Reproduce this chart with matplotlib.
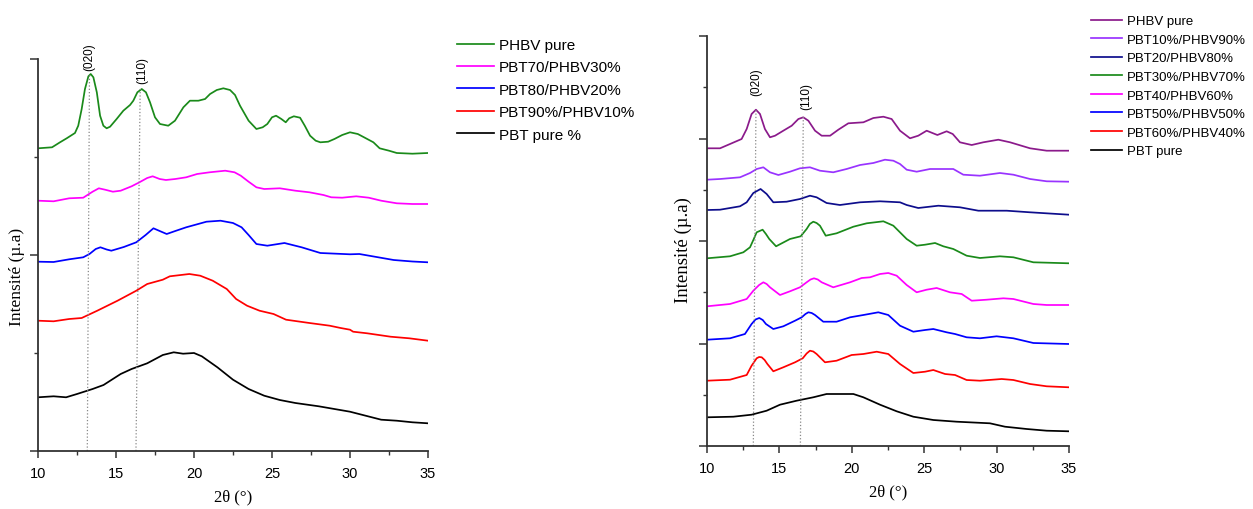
import numpy as np
import matplotlib
matplotlib.use("Agg")
import matplotlib.pyplot as plt
from matplotlib.ticker import MultipleLocator

# ---- left panel: PBT/PHBV blends, PBT rich (stacked intensities, a.u.)
L_phbv_x = [10.0, 10.9, 11.41, 11.84, 12.37, 12.58, 12.8, 13.01, 13.23, 13.38, 13.55, 13.77, 13.98, 14.19,
            14.4, 14.62, 15.04, 15.47, 15.9, 16.11, 16.37, 16.65, 16.92, 17.18, 17.5, 17.82, 18.35, 18.78,
            19.32, 19.74, 20.28, 20.71, 21.03, 21.46, 21.88, 22.31, 22.63, 22.95, 23.5, 24.0, 24.4, 24.7,
            25.0, 25.26, 25.6, 25.88, 26.1, 26.4, 26.8, 27.1, 27.44, 27.8, 28.1, 28.6, 29.0, 29.5, 30.0,
            30.5, 30.9, 31.5, 31.9, 32.5, 33.0, 34.0, 35.0]
L_phbv_y = [302.7, 303.7, 308.7, 312.7, 318.0, 325.3, 342.0, 362.0, 374.7, 377.0, 373.7, 358.7, 335.3, 325.3,
            322.7, 324.3, 332.0, 340.3, 346.0, 350.3, 358.7, 362.0, 358.7, 348.7, 333.7, 327.0, 325.3, 330.3,
            343.7, 350.3, 350.3, 352.0, 357.0, 361.0, 362.7, 361.0, 356.0, 345.3, 330.3, 322.0, 323.7, 327.0,
            333.7, 335.3, 332.0, 328.7, 332.7, 334.7, 333.3, 325.3, 315.3, 310.3, 308.7, 309.3, 312.0, 316.0,
            318.7, 317.0, 313.7, 308.7, 302.7, 300.3, 298.0, 297.3, 298.0]

L_pbt70_x = [10.0, 11.0, 12.0, 12.9, 13.5, 13.9, 14.3, 14.8, 15.3, 16.0, 16.5, 17.0, 17.35, 17.8, 18.2,
             18.8, 19.5, 20.2, 21.0, 22.0, 22.6, 23.0, 23.5, 24.0, 24.5, 25.5, 26.5, 27.4, 28.3, 28.8,
             29.5, 30.4, 31.2, 32.0, 33.0, 34.0, 35.0]
L_pbt70_y = [250.3, 249.7, 252.7, 253.3, 259.3, 262.7, 261.3, 259.3, 260.3, 264.7, 268.7, 273.0, 274.7, 272.0,
             271.0, 272.0, 273.7, 277.0, 278.7, 280.3, 278.7, 275.3, 269.3, 263.7, 262.0, 262.7, 260.3, 258.7,
             256.0, 253.7, 253.3, 254.7, 253.3, 250.3, 247.7, 247.0, 247.0]

L_pbt80_x = [10.0, 11.0, 12.0, 12.9, 13.3, 13.7, 14.0, 14.4, 14.7, 15.5, 16.3, 16.9, 17.4, 17.8, 18.25,
             18.8, 19.5, 20.8, 21.7, 22.5, 23.05, 23.5, 24.0, 24.7, 25.8, 26.9, 28.1, 30.0, 30.6, 31.7,
             32.8, 34.0, 35.0]
L_pbt80_y = [189.3, 189.0, 191.7, 193.7, 197.0, 202.0, 203.7, 201.5, 200.3, 204.0, 208.7, 216.0, 222.7, 220.0,
             217.0, 220.0, 223.7, 229.3, 230.3, 228.0, 223.7, 216.0, 207.0, 205.3, 208.0, 203.7, 198.0, 196.7,
             197.0, 194.0, 191.0, 189.5, 188.7]

L_pbt90_x = [10.0, 11.0, 12.0, 12.8, 13.8, 15.1, 16.3, 17.0, 18.0, 18.45, 19.7, 20.4, 21.2, 22.1, 22.7,
             23.4, 24.2, 25.1, 25.9, 27.4, 28.7, 29.4, 30.0, 30.2, 31.1, 32.6, 33.8, 35.0]
L_pbt90_y = [130.3, 129.7, 132.0, 133.0, 140.3, 150.3, 160.3, 167.0, 171.3, 174.7, 177.0, 175.3, 170.3, 162.0,
             152.0, 145.3, 140.3, 137.0, 131.3, 128.0, 125.3, 123.0, 121.3, 119.3, 117.7, 114.3, 112.7, 110.3]

L_pbt_x = [10.0, 11.0, 11.8, 12.5, 13.5, 14.2, 14.8, 15.3, 16.0, 17.0, 18.0, 18.7, 19.3, 20.0, 20.5,
           21.5, 22.5, 23.5, 24.5, 25.5, 26.5, 28.0, 29.0, 30.0, 31.0, 32.0, 33.0, 34.0, 35.0]
L_pbt_y = [53.7, 54.7, 53.7, 57.0, 62.0, 66.0, 72.0, 77.0, 82.0, 87.7, 96.0, 98.7, 97.3, 98.0, 94.7,
           83.7, 71.3, 62.0, 55.3, 51.0, 48.0, 44.7, 42.0, 39.3, 35.3, 31.3, 30.3, 28.7, 27.7]

left_labels = ["PHBV pure", "PBT70/PHBV30%", "PBT80/PHBV20%", "PBT90%/PHBV10%", "PBT pure %"]
left_colors = ["#1a8a1a", "#ff00ff", "#0000ff", "#ff0000", "#000000"]

# ---- right panel: PHBV rich blends
R_phbv_x = [10.0, 10.9, 11.59, 12.39, 12.74, 13.08, 13.38, 13.66, 14.0, 14.35, 14.7, 15.27, 15.85, 16.31,
            16.65, 17.0, 17.46, 17.92, 18.5, 19.07, 19.76, 20.8, 21.49, 22.18, 22.75, 23.33, 24.02, 24.59,
            25.17, 25.91, 26.55, 26.97, 27.47, 28.28, 29.08, 30.12, 30.93, 32.31, 33.46, 35.0]
R_phbv_y = [297.7, 297.7, 302.0, 307.0, 317.0, 332.0, 336.3, 332.0, 317.0, 308.7, 310.3, 315.3, 320.3, 327.0,
            328.7, 325.3, 315.3, 310.3, 310.3, 316.3, 322.7, 323.7, 328.0, 329.3, 327.0, 315.3, 307.7, 310.3,
            315.3, 311.0, 314.7, 312.0, 303.7, 301.0, 303.7, 306.3, 303.7, 297.7, 295.3, 295.3]

R_pbt10_x = [10.0, 10.9, 12.28, 12.97, 13.43, 13.89, 14.35, 14.93, 15.73, 16.42, 17.11, 17.8, 18.72, 19.64,
             20.57, 21.49, 22.29, 22.87, 23.33, 23.79, 24.48, 25.40, 27.01, 27.70, 28.85, 30.23, 31.16, 32.31,
             33.46, 35.0]
R_pbt10_y = [266.3, 267.0, 268.7, 273.0, 277.0, 278.7, 273.7, 271.0, 274.3, 277.7, 278.7, 275.3, 273.7, 277.0,
             281.0, 283.0, 286.3, 285.3, 282.0, 276.3, 274.3, 277.0, 277.0, 271.3, 270.3, 273.0, 271.3, 267.0,
             264.7, 264.3]

R_pbt20_x = [10.0, 10.9, 12.28, 12.74, 13.2, 13.7, 14.12, 14.58, 15.5, 16.42, 17.11, 17.57, 18.26, 19.18,
             20.57, 21.95, 23.33, 23.79, 24.59, 25.98, 27.47, 28.74, 30.70, 32.31, 35.0]
R_pbt20_y = [236.0, 236.3, 239.7, 243.7, 253.0, 257.0, 252.0, 243.7, 244.3, 247.0, 250.3, 248.7, 243.0, 241.0,
             243.7, 244.7, 243.7, 241.0, 238.0, 240.3, 238.7, 235.3, 235.3, 233.7, 231.3]

R_pbt30_x = [10.0, 11.59, 12.51, 12.97, 13.2, 13.43, 13.84, 14.07, 14.30, 14.77, 15.73, 16.47, 16.88, 17.1,
             17.34, 17.57, 17.80, 18.20, 18.95, 20.11, 21.03, 22.18, 22.87, 23.79, 24.48, 25.06, 25.75, 26.32,
             27.01, 27.93, 28.85, 30.23, 31.16, 32.54, 35.0]
R_pbt30_y = [187.7, 189.7, 193.7, 198.7, 206.0, 213.7, 216.3, 212.0, 207.0, 199.7, 207.0, 209.7, 217.0, 222.0,
             224.3, 223.0, 220.3, 210.3, 212.7, 219.3, 222.7, 224.7, 220.3, 207.0, 200.3, 201.3, 203.0, 199.7,
             197.0, 190.3, 188.0, 189.7, 188.7, 183.7, 182.7]

R_pbt40_x = [10.0, 11.59, 12.74, 13.2, 13.6, 13.89, 14.12, 14.35, 15.04, 15.73, 16.42, 16.88, 17.15, 17.39,
             17.65, 17.92, 18.72, 19.88, 20.68, 21.26, 21.95, 22.52, 23.10, 23.79, 24.48, 25.17, 25.86, 26.78,
             27.59, 28.28, 29.31, 30.47, 31.16, 32.54, 33.46, 35.0]
R_pbt40_y = [139.7, 142.0, 147.0, 155.3, 161.0, 163.7, 162.0, 158.7, 151.0, 154.7, 158.7, 163.7, 166.5, 167.7,
             166.5, 163.7, 158.7, 163.7, 168.0, 168.7, 172.0, 173.0, 170.3, 161.0, 153.7, 156.3, 158.0, 153.7,
             152.0, 145.3, 146.3, 147.7, 147.0, 142.0, 141.0, 141.0]

R_pbt50_x = [10.0, 11.59, 12.62, 13.08, 13.35, 13.61, 13.85, 14.07, 14.58, 15.27, 16.08, 16.54, 16.8, 17.0,
             17.23, 17.46, 18.03, 18.95, 19.88, 20.80, 21.83, 22.52, 23.33, 24.25, 25.06, 25.63, 26.55, 27.13,
             27.93, 28.85, 30.0, 31.16, 32.54, 35.0]
R_pbt50_y = [106.3, 107.7, 112.0, 122.0, 126.5, 128.0, 126.0, 122.0, 117.0, 119.7, 125.3, 128.7, 132.0, 133.7,
             133.0, 131.0, 124.3, 124.3, 128.7, 131.0, 133.7, 131.0, 120.3, 114.3, 116.0, 117.0, 113.7, 112.0,
             108.7, 107.7, 109.7, 107.7, 103.0, 102.0]

R_pbt60_x = [10.0, 11.59, 12.74, 13.08, 13.43, 13.6, 13.78, 13.98, 14.17, 14.58, 15.27, 16.08, 16.61, 16.88,
             17.11, 17.34, 17.57, 18.15, 18.95, 19.99, 20.80, 21.72, 22.52, 23.33, 24.25, 25.06, 25.63, 26.44,
             27.13, 27.93, 28.85, 30.35, 31.16, 32.31, 33.46, 35.0]
R_pbt60_y = [65.3, 66.3, 71.0, 80.3, 87.7, 89.0, 88.7, 86.0, 82.0, 74.7, 78.7, 83.7, 87.7, 92.5,
             95.3, 94.5, 92.0, 83.7, 85.3, 91.0, 92.0, 94.3, 92.0, 82.0, 73.0, 74.3, 76.0, 72.0,
             71.0, 66.0, 65.3, 67.0, 66.0, 62.0, 59.7, 58.7]

R_pbt_x = [10.0, 11.82, 13.08, 14.12, 15.04, 16.19, 17.34, 18.26, 18.95, 20.11, 20.80, 21.95, 23.10, 24.25,
           25.63, 27.24, 29.54, 30.58, 32.08, 33.46, 35.0]
R_pbt_y = [28.7, 29.3, 31.3, 35.3, 41.3, 45.3, 48.7, 52.0, 52.0, 52.0, 48.7, 41.3, 34.7, 29.3,
           26.0, 24.3, 22.7, 19.3, 17.0, 15.3, 14.7]

right_labels = ["PHBV pure", "PBT10%/PHBV90%", "PBT20/PHBV80%", "PBT30%/PHBV70%",
                "PBT40/PHBV60%", "PBT50%/PHBV50%", "PBT60%/PHBV40%", "PBT pure"]
right_colors = ["#8b1a8b", "#9933ff", "#0d0d8c", "#1a8a1a", "#ff00ff", "#0000ff", "#ff0000", "#000000"]

sans = ["Liberation Sans", "DejaVu Sans"]
serif = ["Liberation Serif", "DejaVu Serif"]
plt.rcParams['font.family'] = sans

fig = plt.figure(figsize=(12.53, 5.10), dpi=100)
axL = fig.add_axes([38 / 1253, 58 / 510, 390 / 1253, 392 / 510])
axR = fig.add_axes([707 / 1253, 63 / 510, 362 / 1253, 410 / 510])


def style_axis(ax, ymax, ystep):
    ax.set_xlim(10, 35)
    ax.set_ylim(0, ymax)
    for s in ["top", "right"]:
        ax.spines[s].set_visible(False)
    for s in ["left", "bottom"]:
        ax.spines[s].set_color("#333333")
        ax.spines[s].set_linewidth(1.3)
    ax.xaxis.set_major_locator(MultipleLocator(5))
    ax.xaxis.set_minor_locator(MultipleLocator(2.5))
    ax.yaxis.set_major_locator(MultipleLocator(2 * ystep))
    ax.yaxis.set_minor_locator(MultipleLocator(ystep))
    ax.tick_params(axis="x", which="major", length=5, width=1.1, labelsize=10.5, pad=6, colors="#333333",
                   labelcolor="black")
    ax.tick_params(axis="x", which="minor", length=3, width=1.0, colors="#333333")
    ax.tick_params(axis="y", which="major", length=6, width=1.1, labelleft=False, colors="#333333")
    ax.tick_params(axis="y", which="minor", length=3, width=1.0, colors="#333333")
    ax.set_xlabel("2θ (°)", family=serif, fontsize=12, labelpad=6)


style_axis(axL, 392, 98)
style_axis(axR, 410, 51.25)

# left curves
left_series = [(L_phbv_x, L_phbv_y), (L_pbt70_x, L_pbt70_y), (L_pbt80_x, L_pbt80_y),
               (L_pbt90_x, L_pbt90_y), (L_pbt_x, L_pbt_y)]
for (x, y), lab, c in zip(left_series, left_labels, left_colors):
    axL.plot(x, y, color=c, lw=1.25, label=lab, solid_joinstyle="round")

axL.plot([13.16, 13.3], [0, 377], ls=":", color="#888888", lw=0.9)
axL.plot([16.28, 16.55], [0, 362], ls=":", color="#888888", lw=0.9)
axL.text(13.3, 395, "(020)", rotation=90, ha="center", va="center", fontsize=8.5, clip_on=False)
axL.text(16.7, 382, "(110)", rotation=90, ha="center", va="center", fontsize=8.5, clip_on=False)

# right curves
right_series = [(R_phbv_x, R_phbv_y), (R_pbt10_x, R_pbt10_y), (R_pbt20_x, R_pbt20_y),
                (R_pbt30_x, R_pbt30_y), (R_pbt40_x, R_pbt40_y), (R_pbt50_x, R_pbt50_y),
                (R_pbt60_x, R_pbt60_y), (R_pbt_x, R_pbt_y)]
for (x, y), lab, c in zip(right_series, right_labels, right_colors):
    axR.plot(x, y, color=c, lw=1.25, label=lab, solid_joinstyle="round")

axR.plot([13.2, 13.38], [0, 336], ls=":", color="#888888", lw=0.9)
axR.plot([16.45, 16.65], [0, 329], ls=":", color="#888888", lw=0.9)
axR.text(13.38, 364.5, "(020)", rotation=90, ha="center", va="center", fontsize=8.5)
axR.text(16.84, 351, "(110)", rotation=90, ha="center", va="center", fontsize=8.5)

# y labels
fig.text(17 / 1253, 1 - 277 / 510, "Intensité (µ.a)", rotation=90, ha="center", va="center",
         family=serif, fontsize=12.5)
fig.text(683 / 1253, 1 - 250 / 510, "Intensité (µ.a)", rotation=90, ha="center", va="center",
         family=serif, fontsize=13.5)

# legends
fig.legend(*axL.get_legend_handles_labels(), loc="upper left", bbox_to_anchor=(457 / 1253, 1 - 39 / 510),
           frameon=False, fontsize=11, handlelength=2.4, handletextpad=0.35, labelspacing=0.55,
           borderpad=0, borderaxespad=0)
fig.legend(*axR.get_legend_handles_labels(), loc="upper left", bbox_to_anchor=(1091 / 1253, 1 - 16 / 510),
           frameon=False, fontsize=9.5, handlelength=2.35, handletextpad=0.38, labelspacing=0.48,
           borderpad=0, borderaxespad=0)

fig.savefig("out.png", dpi=100)
